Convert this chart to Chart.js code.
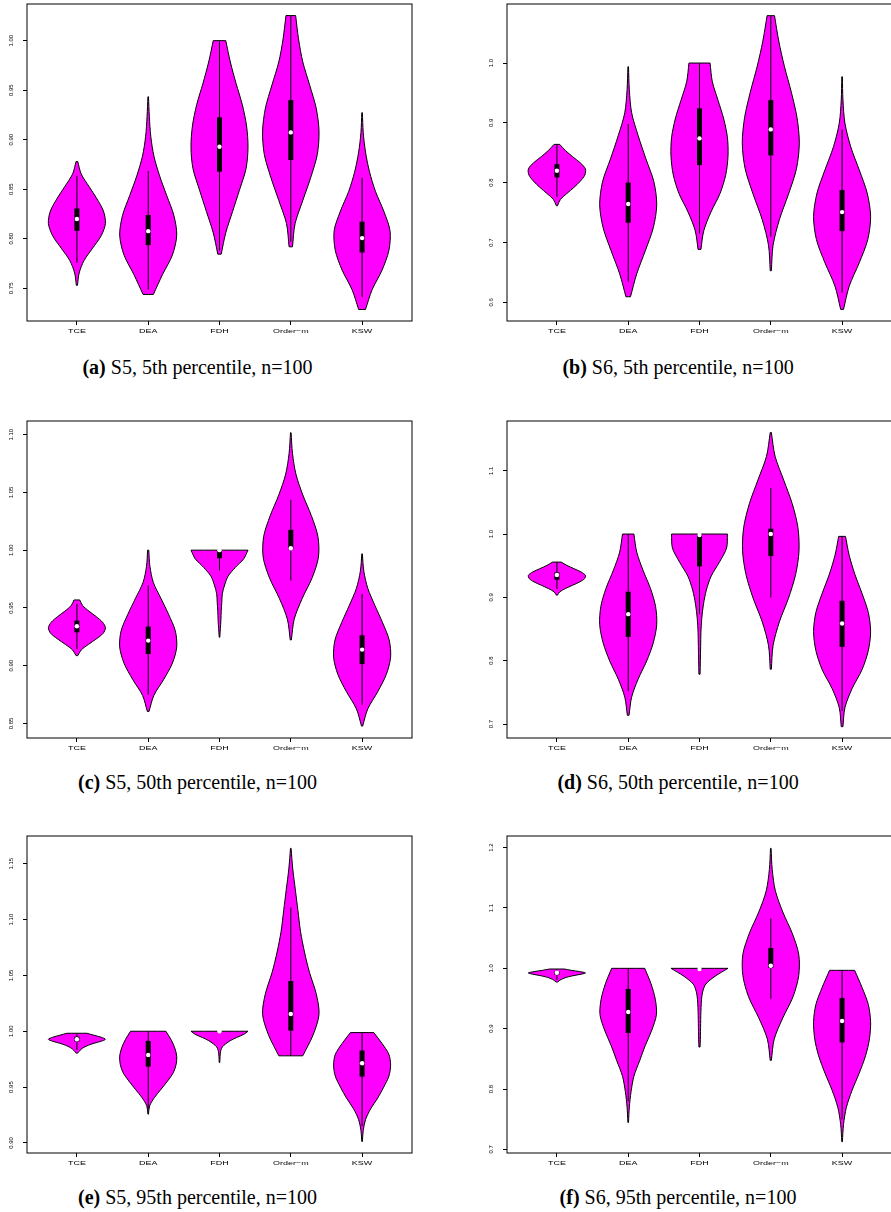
<!DOCTYPE html>
<html>
<head>
<meta charset="utf-8">
<script src="https://cdn.jsdelivr.net/npm/chart.js@4.4.1/dist/chart.umd.min.js"></script>
<style>
  html, body { margin: 0; padding: 0; background: #fff; }
  #page { position: relative; width: 891px; height: 1212px; overflow: hidden; }
  .panel { position: absolute; }
  .cap { position: absolute; width: 400px; text-align: center; font-family: "Liberation Serif", serif;
         font-size: 20px; line-height: 24px; color: #000; white-space: nowrap; }
</style>
</head>
<body>
<div id="page"></div>
<script>
/*** data (a)..(f) ***/
const methods = ["TCE", "DEA", "FDH", "Order\u2212m", "KSW"];
const xPos = [1, 2, 3, 4, 5];

const yTicks = [
  [0.75, 0.80, 0.85, 0.90, 0.95, 1.00],
  [0.6, 0.7, 0.8, 0.9, 1.0],
  [0.85, 0.90, 0.95, 1.00, 1.05, 1.10],
  [0.7, 0.8, 0.9, 1.0, 1.1],
  [0.90, 0.95, 1.00, 1.05, 1.10, 1.15],
  [0.7, 0.8, 0.9, 1.0, 1.1, 1.2]
];
const tickDigits = [2, 1, 2, 1, 2, 1];
const yLimits = [[0.717, 1.037], [0.5687, 1.0987], [0.8374, 1.1118], [0.6779, 1.1785], [0.891, 1.1748], [0.694, 1.2193]];

const minVals = [
  [0.753, 0.7438, 0.7845, 0.7919, 0.7286],
  [0.7614, 0.6092, 0.6884, 0.6527, 0.5881],
  [0.9087, 0.8604, 0.9246, 0.9223, 0.8477],
  [0.9035, 0.7138, 0.7786, 0.7865, 0.6958],
  [0.9803, 0.9258, 0.972, 0.978, 0.9013],
  [0.9773, 0.7445, 0.8696, 0.8475, 0.7127]
];
const maxVals = [
  [0.878, 0.9434, 1.0, 1.0253, 0.9273],
  [0.864, 0.9939, 1.0, 1.0792, 0.9771],
  [0.9569, 1.0, 1.0, 1.1017, 0.9968],
  [0.9557, 1.0, 1.0, 1.1603, 0.9963],
  [0.9982, 1.0, 1.0, 1.1638, 0.9988],
  [0.9989, 1.0, 1.0, 1.1989, 0.9967]
];
const q1Vals = [
  [0.808, 0.7936, 0.8677, 0.8795, 0.7862],
  [0.8088, 0.733, 0.8294, 0.8456, 0.719],
  [0.9289, 0.9101, 0.993, 1.0005, 0.9014],
  [0.9278, 0.8376, 0.9489, 0.9652, 0.8218],
  [0.9908, 0.9684, 0.9995, 1.0005, 0.9594],
  [0.9895, 0.8928, 0.998, 1.0006, 0.8773]
];
const medians = [
  [0.820, 0.8077, 0.8929, 0.9074, 0.8007],
  [0.820, 0.7642, 0.874, 0.889, 0.7508],
  [0.9341, 0.9217, 1.0, 1.0017, 0.9139],
  [0.9352, 0.8735, 0.9985, 1.0, 0.8587],
  [0.9928, 0.9788, 1.0, 1.0155, 0.9714],
  [0.9928, 0.9277, 0.999, 1.0044, 0.9127]
];
const q3Vals = [
  [0.8306, 0.824, 0.9226, 0.94, 0.8172],
  [0.831, 0.80, 0.9242, 0.938, 0.7876],
  [0.939, 0.9338, 1.0, 1.0176, 0.9263],
  [0.9394, 0.9088, 0.9995, 1.0084, 0.8946],
  [0.9952, 0.9913, 1.0, 1.045, 0.9827],
  [0.995, 0.9658, 1.0, 1.0337, 0.9508]
];
const whiskLo = [
  [0.7758, 0.7488, 0.788, 0.797, 0.7414],
  [0.7765, 0.6343, 0.715, 0.7096, 0.616],
  [0.9145, 0.8749, 0.9824, 0.9737, 0.8662],
  [0.913, 0.752, 0.8735, 0.8998, 0.7206],
  [0.9833, 0.93, 0.999, 0.978, 0.915],
  [0.981, 0.78, 0.998, 0.9497, 0.75]
];
const whiskHi = [
  [0.8636, 0.8684, 1.0, 1.0253, 0.8616],
  [0.864, 0.898, 1.0, 1.0792, 0.889],
  [0.9535, 0.9694, 1.0, 1.0436, 0.9621],
  [0.9557, 1.0, 1.0, 1.0727, 0.9963],
  [0.9982, 1.0, 1.0, 1.1108, 0.9988],
  [0.9989, 1.0, 1.0, 1.0823, 0.9967]
];
// density half-widths (1 = widest), at 11 even levels from min (first) to max (last)
const shapes = [
  [[0.02, 0.08, 0.25, 0.55, 0.85, 1.0, 0.93, 0.7, 0.42, 0.15, 0.03],
   [0.18, 0.5, 0.85, 1.0, 0.9, 0.65, 0.4, 0.2, 0.09, 0.04, 0.01],
   [0.06, 0.22, 0.46, 0.7, 0.93, 1.0, 0.95, 0.8, 0.58, 0.38, 0.22],
   [0.06, 0.15, 0.42, 0.7, 0.93, 0.99, 0.89, 0.66, 0.42, 0.27, 0.17],
   [0.12, 0.35, 0.7, 0.94, 0.98, 0.76, 0.47, 0.26, 0.12, 0.04, 0.01]],
  [[0.02, 0.12, 0.35, 0.6, 0.82, 0.98, 1.0, 0.82, 0.55, 0.3, 0.1],
   [0.08, 0.3, 0.6, 0.88, 1.0, 0.9, 0.62, 0.35, 0.12, 0.04, 0.01],
   [0.05, 0.15, 0.4, 0.72, 0.92, 1.0, 0.98, 0.85, 0.65, 0.45, 0.37],
   [0.02, 0.08, 0.3, 0.62, 0.9, 1.0, 0.92, 0.72, 0.48, 0.28, 0.13],
   [0.05, 0.25, 0.6, 0.9, 1.0, 0.88, 0.6, 0.3, 0.1, 0.03, 0.01]],
  [[0.03, 0.15, 0.4, 0.68, 0.92, 1.0, 0.9, 0.68, 0.42, 0.2, 0.1],
   [0.03, 0.2, 0.55, 0.85, 1.0, 0.95, 0.72, 0.45, 0.18, 0.06, 0.02],
   [0.01, 0.03, 0.05, 0.06, 0.08, 0.1, 0.18, 0.3, 0.55, 0.85, 1.0],
   [0.02, 0.12, 0.4, 0.75, 0.97, 0.95, 0.72, 0.42, 0.18, 0.06, 0.01],
   [0.02, 0.2, 0.55, 0.85, 1.0, 0.95, 0.72, 0.45, 0.2, 0.06, 0.01]],
  [[0.02, 0.1, 0.3, 0.55, 0.8, 0.97, 1.0, 0.85, 0.6, 0.35, 0.15],
   [0.03, 0.12, 0.35, 0.65, 0.88, 1.0, 0.96, 0.78, 0.52, 0.3, 0.2],
   [0.02, 0.03, 0.04, 0.05, 0.08, 0.14, 0.24, 0.41, 0.7, 0.95, 0.98],
   [0.02, 0.08, 0.3, 0.62, 0.87, 0.99, 0.95, 0.75, 0.45, 0.15, 0.02],
   [0.03, 0.1, 0.35, 0.7, 0.92, 1.0, 0.92, 0.7, 0.45, 0.25, 0.12]],
  [[0.02, 0.08, 0.15, 0.25, 0.4, 0.6, 0.85, 1.0, 0.85, 0.6, 0.35],
   [0.01, 0.05, 0.22, 0.45, 0.68, 0.88, 0.98, 1.0, 0.93, 0.8, 0.62],
   [0.01, 0.015, 0.02, 0.03, 0.05, 0.1, 0.22, 0.38, 0.6, 0.85, 1.0],
   [0.42, 0.78, 0.99, 0.89, 0.66, 0.48, 0.34, 0.25, 0.16, 0.07, 0.01],
   [0.01, 0.04, 0.12, 0.3, 0.55, 0.76, 0.94, 1.0, 0.94, 0.7, 0.41]],
  [[0.02, 0.08, 0.15, 0.25, 0.4, 0.6, 0.85, 1.0, 0.8, 0.5, 0.26],
   [0.01, 0.04, 0.1, 0.2, 0.4, 0.6, 0.83, 0.99, 0.95, 0.8, 0.58],
   [0.02, 0.03, 0.035, 0.04, 0.045, 0.055, 0.07, 0.11, 0.22, 0.55, 1.0],
   [0.02, 0.12, 0.42, 0.78, 0.98, 0.98, 0.75, 0.42, 0.16, 0.05, 0.01],
   [0.01, 0.05, 0.15, 0.35, 0.6, 0.82, 0.96, 1.0, 0.92, 0.7, 0.44]]
];

const captionTags = ["(a)", "(b)", "(c)", "(d)", "(e)", "(f)"];
const captionTexts = [
  " S5, 5th percentile, n=100", " S6, 5th percentile, n=100",
  " S5, 50th percentile, n=100", " S6, 50th percentile, n=100",
  " S5, 95th percentile, n=100", " S6, 95th percentile, n=100"
];

/*** layout ***/
const HALF = 0.4;          // widest violin half-width, in category units
const colLeft = [0, 480];
const rowTop = [0, 416.5, 832.3];
const capX = [197.5, 678];
const capBase = [373, 788, 1203];
const page = document.getElementById("page");

function violinPath(c, lo, hi, w) {
  const n = w.length - 1;
  const left = [], right = [];
  for (let i = 0; i <= n; i++) {
    const y = lo + (hi - lo) * i / n;
    left.push({ x: c - HALF * w[i], y: y });
    right.push({ x: c + HALF * w[i], y: y });
  }
  // corners doubled so the flat cut ends stay straight under tension
  const pts = left.map(p => ({ ...p }));
  pts.push({ ...left[n] });
  pts.push({ ...right[n] });
  for (let i = n; i >= 0; i--) pts.push({ ...right[i] });
  pts.push({ ...right[0] });
  pts.push({ ...left[0] });
  return pts;
}

function makePanel(p) {
  const col = p % 2, row = Math.floor(p / 2);
  const wrap = document.createElement("div");
  wrap.className = "panel";
  wrap.style.left = colLeft[col] + "px";
  wrap.style.top = rowTop[row] + "px";
  const canvas = document.createElement("canvas");
  canvas.width = 440;
  canvas.height = 351;
  canvas.style.width = "440px";
  canvas.style.height = "351px";
  wrap.appendChild(canvas);
  page.appendChild(wrap);

  const datasets = [];
  for (let k = 0; k < methods.length; k++) {
    const c = xPos[k];
    datasets.push({
      type: "line", order: 4,
      data: violinPath(c, minVals[p][k], maxVals[p][k], shapes[p][k]),
      borderColor: "#000", borderWidth: 1, backgroundColor: "#ff00ff",
      fill: "shape", tension: 0.3, pointRadius: 0
    });
    datasets.push({
      type: "line", order: 3,
      data: [{ x: c, y: whiskLo[p][k] }, { x: c, y: whiskHi[p][k] }],
      borderColor: "#000", borderWidth: 1, fill: false, pointRadius: 0
    });
    datasets.push({
      type: "line", order: 2,
      data: [{ x: c, y: q1Vals[p][k] }, { x: c, y: q3Vals[p][k] }],
      borderColor: "#000", borderWidth: 5, borderCapStyle: "butt", fill: false, pointRadius: 0
    });
    datasets.push({
      type: "scatter", order: 1,
      data: [{ x: c, y: medians[p][k] }],
      pointRadius: 2.2, pointBackgroundColor: "#fff", pointBorderWidth: 0
    });
  }

  const axisGrid = { drawOnChartArea: false, drawTicks: true, tickLength: 4, color: "#000", lineWidth: 1 };

  new Chart(canvas.getContext("2d"), {
    type: "line",
    data: { datasets: datasets },
    options: {
      responsive: false,
      animation: false,
      events: [],
      layout: { padding: { top: 4, right: 28, left: 0, bottom: 0 } },
      plugins: { legend: { display: false }, tooltip: { enabled: false } },
      scales: {
        x: {
          type: "linear", min: 0.3, max: 5.7,
          afterBuildTicks: s => { s.ticks = xPos.map(v => ({ value: v })); },
          afterFit: s => { s.height = 30; },
          ticks: { display: false },
          grid: axisGrid, border: { display: false }
        },
        y: {
          type: "linear", min: yLimits[p][0], max: yLimits[p][1],
          afterBuildTicks: s => { s.ticks = yTicks[p].map(v => ({ value: v })); },
          afterFit: s => { s.width = 27; },
          ticks: { display: false },
          grid: axisGrid, border: { display: false }
        }
      }
    },
    plugins: [{
      id: "frameAndLabels",
      afterDraw(chart) {
        const ctx = chart.ctx, a = chart.chartArea;
        const xs = chart.scales.x, ys = chart.scales.y;
        ctx.save();
        ctx.strokeStyle = "#000";
        ctx.lineWidth = 1;
        ctx.strokeRect(a.left, a.top, a.right - a.left, a.bottom - a.top);
        ctx.fillStyle = "#000";
        ctx.textAlign = "center";
        ctx.textBaseline = "middle";
        // y labels run up the axis, as in R
        ctx.font = '6px "Liberation Sans"';
        yTicks[p].forEach(v => {
          ctx.save();
          ctx.translate(a.left - 15.5, ys.getPixelForValue(v));
          ctx.rotate(-Math.PI / 2);
          ctx.fillText(v.toFixed(tickDigits[p]), 0, 0);
          ctx.restore();
        });
        ctx.font = '6.2px "Liberation Sans"';
        methods.forEach((m, k) => {
          ctx.save();
          ctx.translate(xs.getPixelForValue(xPos[k]), a.bottom + 10);
          ctx.scale(1.45, 1);
          ctx.fillText(m, 0, 0);
          ctx.restore();
        });
        ctx.restore();
      }
    }]
  });

  const cap = document.createElement("div");
  cap.className = "cap";
  cap.style.left = (capX[col] - 200) + "px";
  cap.style.top = (capBase[row] - 18) + "px";
  const b = document.createElement("b");
  b.textContent = captionTags[p];
  cap.appendChild(b);
  cap.appendChild(document.createTextNode(captionTexts[p]));
  page.appendChild(cap);
}

for (let p = 0; p < 6; p++) makePanel(p);
</script>
</body>
</html>
